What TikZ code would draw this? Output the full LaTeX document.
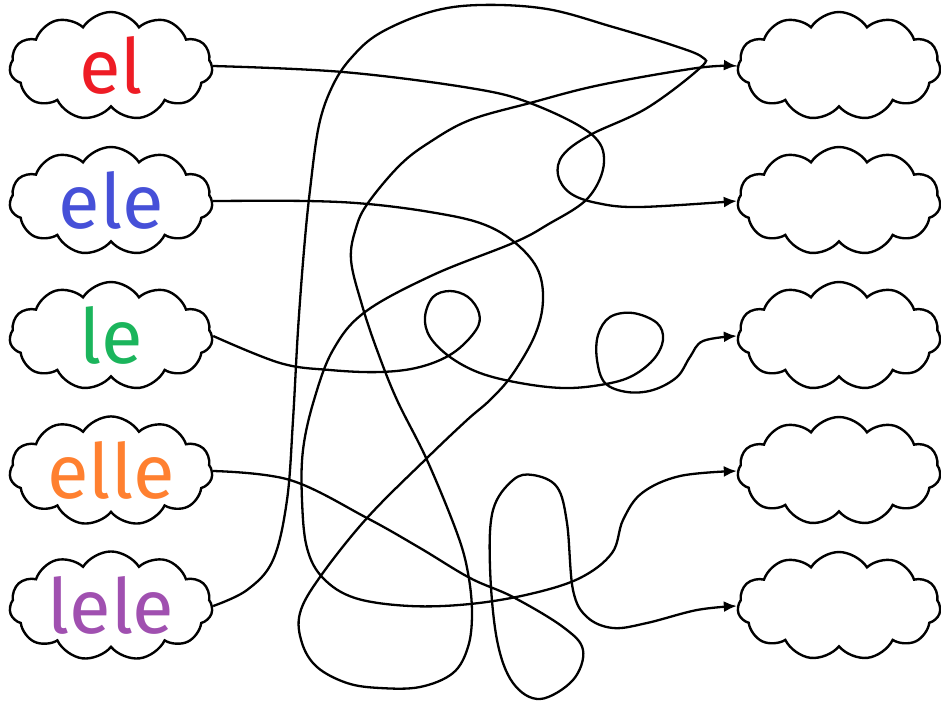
\documentclass[tikz,border=0pt]{standalone}
\usepackage{fontspec}
\setmainfont{Fira Sans}
\usetikzlibrary{shapes.symbols,arrows.meta}
\definecolor{wRed}{HTML}{EE1C25}
\definecolor{wBlue}{HTML}{4650D8}
\definecolor{wGreen}{HTML}{1BB55C}
\definecolor{wOrange}{HTML}{FF8030}
\definecolor{wPurple}{HTML}{A050B0}
\begin{document}
\begin{tikzpicture}[x=1pt,y=-1pt,
  cloudbox/.style={cloud, draw=black, line width=2.4pt, cloud puffs=11, cloud puff arc=115,
    cloud ignores aspect, minimum width=203pt, minimum height=108pt, inner sep=0pt, fill=white},
  word/.style={font=\fontsize{76}{80}\selectfont},
  link/.style={line width=2.3pt, -{Latex[length=13pt,width=11pt]}},
]
\useasboundingbox (0,0) rectangle (941,702);
% left clouds
\node[cloudbox, word, text=wRed]    (el)   at (111,66)  {\raisebox{3pt}{el}};
\node[cloudbox, word, text=wBlue]   (ele)  at (111,201) {\raisebox{3pt}{ele}};
\node[cloudbox, word, text=wGreen]  (le)   at (111,336) {\raisebox{3pt}{le}};
\node[cloudbox, word, text=wOrange] (elle) at (111,471) {\raisebox{3pt}{elle}};
\node[cloudbox, word, text=wPurple] (lele) at (111,606) {\raisebox{3pt}{lele}};
% right clouds
\node[cloudbox] (r1) at (839,66)  {};
\node[cloudbox] (r2) at (839,201) {};
\node[cloudbox] (r3) at (839,336) {};
\node[cloudbox] (r4) at (839,471) {};
\node[cloudbox] (r5) at (839,606) {};
% connectors
\draw[link] plot[smooth, tension=0.6] coordinates {(el.east) (343,72) (470,88) (530,103) (590,133) (604,162) (588,198) (547,225) (513,243) (433,275) (365,312) (333,350) (314,400) (303,450) (302,500) (307,548) (323,578) (355,598) (410,606) (470,604) (530,594) (580,578) (612,553) (623,520) (642,493) (680,476) (r4.west)};
\draw[link] plot[smooth, tension=0.6] coordinates {(ele.east) (307,201) (368,204) (430,212) (480,223) (513,241) (537,268) (543,300) (535,335) (512,375) (490,400) (467,420) (427,458) (367,518) (320,577) (300,613) (302,643) (317,667) (347,683) (380,688) (420,687) (453,673) (468,647) (472,613) (468,573) (457,533) (427,460) (397,400) (377,350) (362,305) (351,260) (356,228) (368,203) (400,165) (430,142) (470,120) (530,103) (600,85) (697,68) (r1.west)};
\draw[link] plot[smooth, tension=0.6] coordinates {(le.east) (280,363) (330,370) (380,372) (420,367) (453,353) (476,330) (479,313) (468,297) (450,291) (433,297) (425,317) (430,337) (450,357) (480,373) (520,383) (563,388) (600,385) (630,377) (653,360) (663,340) (657,323) (633,313) (610,317) (598,335) (597,360) (605,383) (627,392) (653,390) (677,377) (690,357) (703,341) (r3.west)};
\draw[link] plot[smooth, tension=0.6] coordinates {(elle.east) (290,480) (367,518) (420,548) (470,578) (513,597) (563,627) (583,650) (573,680) (540,699) (513,683) (497,640) (490,567) (493,510) (513,480) (533,475) (557,487) (567,523) (573,590) (587,617) (613,628) (647,623) (697,610) (r5.west)};
\draw[link] plot[smooth, tension=0.6] coordinates {(lele.east) (247,590) (273,560) (287,500) (293,420) (298,330) (304,250) (310,190) (319,125) (333,85) (352,57) (380,33) (430,12) (480,5) (547,9) (613,27) (672,45) (702,57) (700,68) (647,108) (590,135) (563,155) (558,175) (570,193) (597,203) (640,207) (r2.west)};
\end{tikzpicture}
\end{document}
